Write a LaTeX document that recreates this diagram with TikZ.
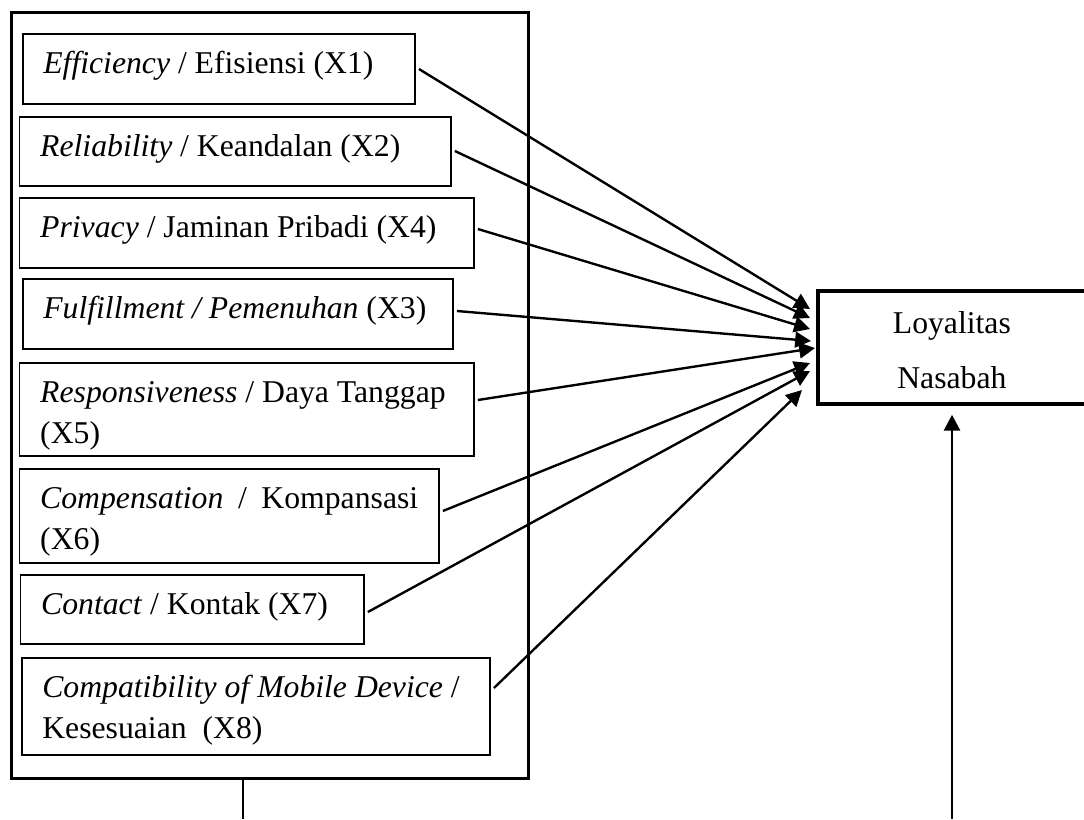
\documentclass[tikz,border=0pt]{standalone}
\usepackage{fontspec}
\setmainfont{Liberation Serif}
\usepackage{tikz}
\usetikzlibrary{positioning,calc,arrows.meta}
\newdimen\pxu \pxu=0.3785pt
\tikzset{
    dimbox/.style={rectangle, draw=black, line width=1pt, anchor=north west, inner sep=0pt},
    varbox/.style={rectangle, draw=black, line width=0.7pt, anchor=north west, inner xsep=20.7\pxu, inner ysep=0pt, text height=40\pxu, align=left, font=\fontsize{12}{15.4}\selectfont, execute at begin node={\spaceskip=0pt\xspaceskip=0pt\relax}},
    loybox/.style={rectangle, draw=black, line width=1.4pt, anchor=north west, inner xsep=10\pxu, inner ysep=0pt, text width=248\pxu, text height=43\pxu, text depth=70\pxu, align=center, font=\fontsize{12}{20.8}\selectfont},
    panah/.style={draw=black, line width=0.9pt, -{Triangle[length=6pt,width=6pt]}},
    garis/.style={draw=black, line width=1pt}
}

\begin{document}
\begin{tikzpicture}[x=\pxu, y=-\pxu]
    \useasboundingbox (0,0) rectangle (1084,819);
    % Kotak luar
    \node[dimbox, minimum width=516.7\pxu, minimum height=766\pxu] (dimensi) at (10.3,11) {};
    % Variabel X
    \node[varbox, text width=351\pxu, text depth=30\pxu] (x1) at (21.7,33) {\textit{Efficiency} / Efisiensi (X1)};
    \node[varbox, text width=390\pxu, text depth=29\pxu] (x2) at (18.6,116) {\textit{Reliability} / Keandalan (X2)};
    \node[varbox, text width=413\pxu, text depth=30\pxu] (x3) at (18.6,197) {\textit{Privacy} / Jaminan Pribadi (X4)};
    \node[varbox, text width=389\pxu, text depth=30\pxu] (x4) at (21.7,278) {\mbox{\textit{Fulfillment / Pemenuhan} (X3)}};
    \node[varbox, text width=413\pxu, text depth=53\pxu] (x5) at (18.6,362) {\mbox{\textit{Responsiveness} / Daya Tanggap}\\(X5)};
    \node[varbox, text width=378\pxu, text depth=54\pxu] (x6) at (18.6,468) {\hbox to\linewidth{\textit{Compensation}\hfill/\hfill Kompansasi}\\(X6)};
    \node[varbox, text width=302\pxu, text depth=29\pxu] (x7) at (19.6,574) {\textit{Contact} / Kontak (X7)};
    \node[varbox, text width=427\pxu, text depth=57\pxu] (x8) at (20.7,657) {\mbox{\textit{Compatibility of Mobile Device} /}\\Kesesuaian~~(X8)};
    % Loyalitas Nasabah
    \node[loybox] (loyal) at (816,289) {Loyalitas\\Nasabah};
    % Panah ke Loyalitas
    \foreach \n/\sy/\ex/\ey in {1/36/-6/20, 2/35/-6/29, 3/32/-6/40, 4/33/-5/52, 5/38/-1/59, 6/43/-6/74, 7/38/-6/82, 8/31/-14/101}
        \draw[panah] ($(x\n.north east)+(3,\sy)$) -- ($(loyal.north west)+(\ex,\ey)$);
    % Garis bawah
    \coordinate (ujungA) at (243,819);
    \coordinate (ujungB) at (952,819);
    \draw[garis] (dimensi.south -| ujungA) -- (ujungA);
    \draw[panah, line width=1.1pt] (ujungB) -- ($(loyal.south -| ujungB)+(0,9)$);
\end{tikzpicture}
\end{document}
